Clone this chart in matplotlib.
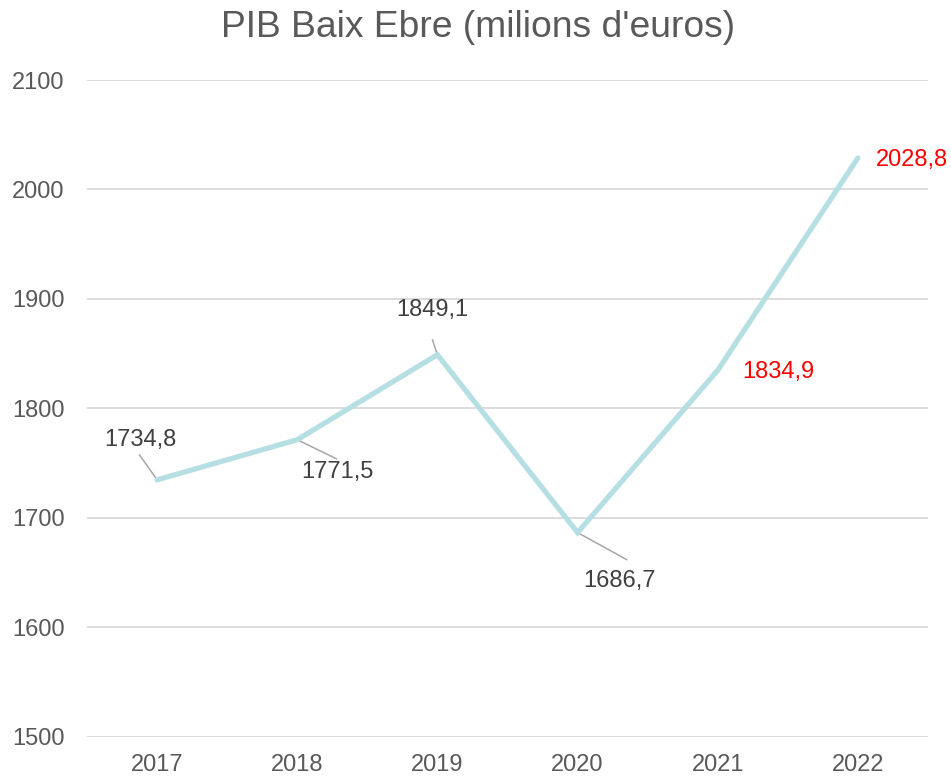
import matplotlib
matplotlib.use("Agg")
import matplotlib.pyplot as plt

plt.rcParams['font.family'] = ['Liberation Sans', 'DejaVu Sans']

years = ["2017", "2018", "2019", "2020", "2021", "2022"]
values = [1734.8, 1771.5, 1849.1, 1686.7, 1834.9, 2028.8]
labels = ["1734,8", "1771,5", "1849,1", "1686,7", "1834,9", "2028,8"]
label_colors = ["#404040", "#404040", "#404040", "#404040", "#FF0000", "#FF0000"]
# label offsets in data units (dx in categories, dy in value units)
label_pos = [(-0.12, 36), (0.29, -29.5), (-0.04, 41), (0.3, -44), (0.43, -2), (0.385, -2)]

fig = plt.figure(figsize=(9.51, 7.76), dpi=100)
ax = fig.add_axes([0.0915, 0.0503, 0.8843, 0.8466])

x = list(range(len(years)))
ax.plot(x, values, color="#B6DFE3", linewidth=3.8, solid_capstyle="round", solid_joinstyle="miter", zorder=3)

for i, (v, lab, c, (dx, dy)) in enumerate(zip(values, labels, label_colors, label_pos)):
    ax.text(i + dx, v + dy, lab, ha="center", va="center", fontsize=17, color=c, zorder=5)

# leader lines (from near label to point)
leader_segs = [
    ((-0.125, 1757.5), (0.0, 1734.8)),
    ((1.0, 1771.5), (1.28, 1754.0)),
    ((1.965, 1862.6), (2.0, 1849.1)),
    ((3.0, 1686.7), (3.35, 1662.0)),
]
for (x0, y0), (x1, y1) in leader_segs:
    ax.plot([x0, x1], [y0, y1], color="#A6A6A6", linewidth=1.1, zorder=2)

ax.set_xlim(-0.5, 5.5)
ax.set_ylim(1500, 2100)
ax.set_yticks(range(1500, 2101, 100))
ax.set_xticks(x)
ax.set_xticklabels(years)
ax.yaxis.grid(True, color="#D9D9D9", linewidth=1.3)
ax.set_axisbelow(True)
for s in ax.spines.values():
    s.set_visible(False)
ax.tick_params(axis="both", length=0, labelsize=17, colors="#595959")
ax.tick_params(axis="y", pad=16)
ax.tick_params(axis="x", pad=12)

fig.text(0.503, 0.964, "PIB Baix Ebre (milions d'euros)", ha="center", va="center",
         fontsize=26.8, color="#595959")

fig.savefig("out.png", dpi=100)
